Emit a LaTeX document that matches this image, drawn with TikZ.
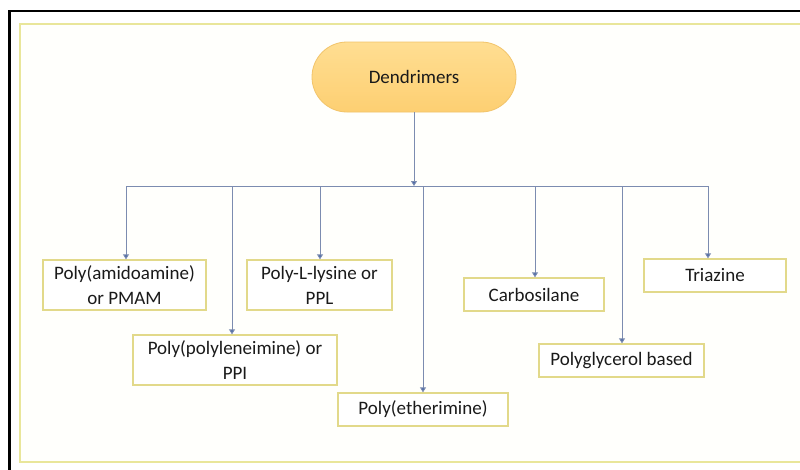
\documentclass[tikz,border=0pt]{standalone}
\usepackage{fontspec}
\setmainfont{Carlito}
\usetikzlibrary{arrows.meta,positioning}
\definecolor{framey}{HTML}{E9E69A}
\definecolor{boxy}{HTML}{E2D98A}
\definecolor{linec}{HTML}{7C8CB0}
\definecolor{tipc}{HTML}{4A69A8}
\definecolor{txt}{HTML}{1A1A1A}
\definecolor{orangetop}{HTML}{FFDE92}
\definecolor{orangebot}{HTML}{FDCF72}
\definecolor{orangeborder}{HTML}{F2C46A}
\tikzset{
  catbox/.style={draw=boxy, line width=1.3pt, fill=white, align=center, inner sep=0pt,
    font=\fontsize{19}{25}\selectfont, text=txt},
  conn/.style={draw=linec, line width=0.9pt},
  arr/.style={conn, -{Triangle[width=6pt,length=5pt,fill=tipc]}},
}
\begin{document}
\begin{tikzpicture}[x=1pt,y=-1pt]
\useasboundingbox (0,0) rectangle (800,469);
\fill[white] (0,0) rectangle (800,469);
% yellow frame
\draw[framey, line width=1.6pt, fill={rgb,255:red,255;green,255;blue,252}] (20,24) rectangle (803,462);
% black frame
\draw[black, line width=2.5pt] (9.5,475) -- (9.5,11) -- (806,11);
% root
\node[rounded corners=35pt, minimum width=204pt, minimum height=70pt, draw=orangeborder, line width=0.8pt,
  top color=orangetop, bottom color=orangebot, font=\fontsize{19}{24}\selectfont, text=txt] (dend) at (414,77) {Dendrimers};
% children
\node[catbox, minimum width=163pt, minimum height=50pt] (pmam) at (124.5,285) {Poly(amidoamine)\\or PMAM};
\node[catbox, minimum width=145pt, minimum height=50pt] (ppl) at (319.5,285) {Poly-L-lysine or\\PPL};
\node[catbox, minimum width=204pt, minimum height=50pt] (ppi) at (235,360) {Poly(polyleneimine) or\\PPI};
\node[catbox, minimum width=170pt, minimum height=33pt] (pei) at (423,409.5) {Poly(etherimine)};
\node[catbox, minimum width=140pt, minimum height=33pt] (carb) at (534,294.5) {Carbosilane};
\node[catbox, minimum width=165pt, minimum height=33pt] (pg) at (621.5,360.5) {Polyglycerol based};
\node[catbox, minimum width=142pt, minimum height=33pt] (tri) at (715,275.5) {Triazine};
% bus coordinates
\coordinate (h1) at (126,186);
\coordinate (h2) at (232,186);
\coordinate (h3) at (320,186);
\coordinate (h4) at (423,186);
\coordinate (h5) at (535,186);
\coordinate (h6) at (622,186);
\coordinate (h7) at (708,186);
\draw[conn] (h1) -- (h7);
\draw[arr] (dend.south) -- (dend.south |- h1);
\draw[arr] (h1) -- (h1 |- pmam.north);
\draw[arr] (h2) -- (h2 |- ppi.north);
\draw[arr] (h3) -- (h3 |- ppl.north);
\draw[arr] (h4) -- (h4 |- pei.north);
\draw[arr] (h5) -- (h5 |- carb.north);
\draw[arr] (h6) -- (h6 |- pg.north);
\draw[arr] (h7) -- (h7 |- tri.north);
\end{tikzpicture}
\end{document}
